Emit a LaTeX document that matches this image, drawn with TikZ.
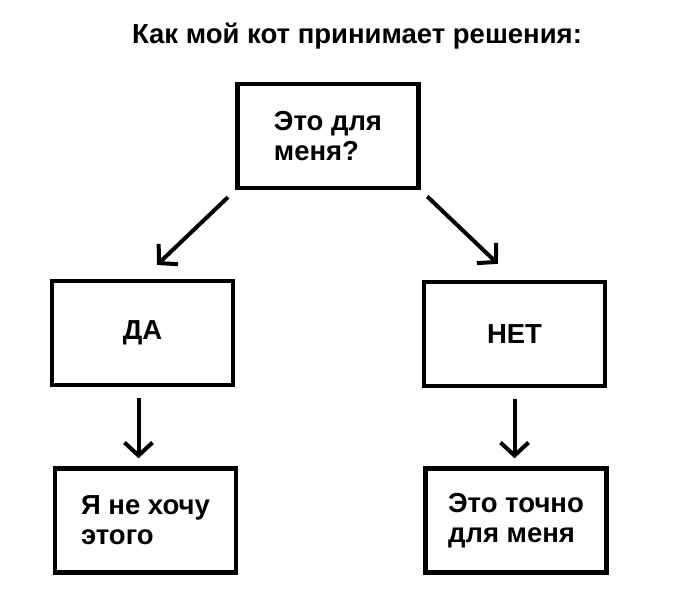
\documentclass[tikz,border=0pt]{standalone}
\usepackage{fontspec}
\setmainfont{Liberation Sans}
\usetikzlibrary{arrows.meta, positioning, calc}

\tikzset{
  box/.style={draw, line width=4.5pt, minimum width=181pt, minimum height=104pt,
    align=left, inner sep=0pt, font=\fontsize{27.5}{30}\selectfont\bfseries},
  arr/.style={line width=4pt, -{Straight Barb[length=13pt,width=28pt,line width=4pt]}}
}

\begin{document}
\begin{tikzpicture}[x=1pt,y=-1pt]
\useasboundingbox (0,0) rectangle (680,610);
\node[font=\fontsize{27.5}{32}\selectfont\bfseries] (title) at (357,36) {Как мой кот принимает решения:};
% question
\node[box] (q) at (328,136) {Это для\\меня?};
% answers
\node[box] (da) at (142.5,333) {ДА};
\node[box] (net) at (514.5,334) {НЕТ};
\node[box] (nowant) at (145.5,520.5) {Я не хочу\\этого};
\node[box] (forme) at (516,520.5) {Это точно\\для меня};
\draw[arr, shorten <=10pt, shorten >=20pt] (q.south west) -- (da.north);
\draw[arr, shorten <=9pt, shorten >=23pt] (q.south east) -- (net.north);
\draw[arr, shorten <=11pt, shorten >=8pt] ([xshift=-4pt]da.south) -- ([xshift=-4pt]da.south |- nowant.north);
\draw[arr, shorten <=11pt, shorten >=8pt] (net.south) -- (net.south |- forme.north);
\end{tikzpicture}
\end{document}
